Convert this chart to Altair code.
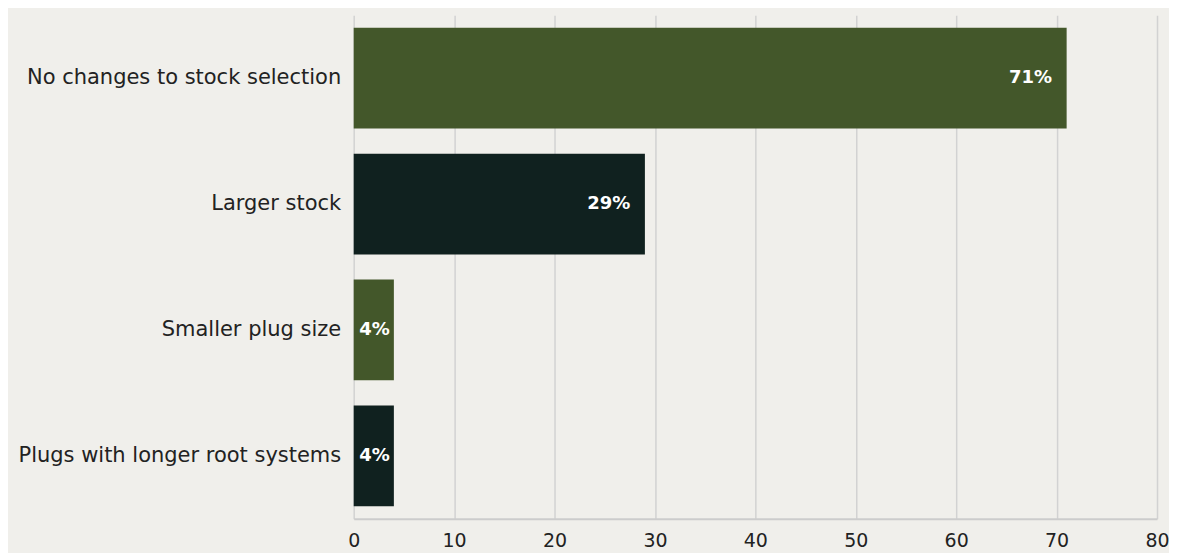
import altair as alt
import pandas as pd

categories = ["No changes to stock selection", "Larger stock", "Smaller plug size", "Plugs with longer root systems"]
values = [71, 29, 4, 4]
labels = ["71%", "29%", "4%", "4%"]
colors = ["#43572a", "#10211f", "#43572a", "#10211f"]

df = pd.DataFrame({"category": categories, "value": values, "label": labels, "color": colors})

FONT = "DejaVu Sans"

base = alt.Chart(df)

bars = base.mark_bar().encode(
    y=alt.Y("category:N", sort=categories, title=None,
            scale=alt.Scale(paddingInner=0.2, paddingOuter=0.1),
            axis=alt.Axis(domain=False, ticks=False, labelFontSize=21, labelFont=FONT,
                          labelColor="#222222", labelPadding=13, labelLimit=400, grid=False)),
    x=alt.X("value:Q", title=None, scale=alt.Scale(domain=[0, 80], nice=False),
            axis=alt.Axis(values=[0, 10, 20, 30, 40, 50, 60, 70, 80], ticks=False,
                          domain=True, domainColor="#cccccc", domainWidth=2,
                          grid=True, gridColor="#d2d2d2", gridWidth=1.5,
                          labelFontSize=19, labelFont=FONT, labelColor="#222222",
                          labelPadding=13, labelFlush=False)),
    color=alt.Color("color:N", scale=None),
)

text = base.transform_calculate(
    lx="datum.value > 10 ? datum.value - 1.45 : datum.value - 0.4"
).mark_text(align="right", baseline="middle", color="white", fontWeight="bold",
            fontSize=18, font=FONT).encode(
    y=alt.Y("category:N", sort=categories),
    x=alt.X("lx:Q"),
    text="label:N",
)

chart = (bars + text).properties(
    width=804, height=504,
    autosize=alt.AutoSizeParams(type="none"),
    padding={"left": 346, "top": 7, "right": 12, "bottom": 34},
    background="#f0efeb",
).configure_view(stroke=None)

chart.save("out.html", embed_options={"renderer": "svg", "actions": False})
